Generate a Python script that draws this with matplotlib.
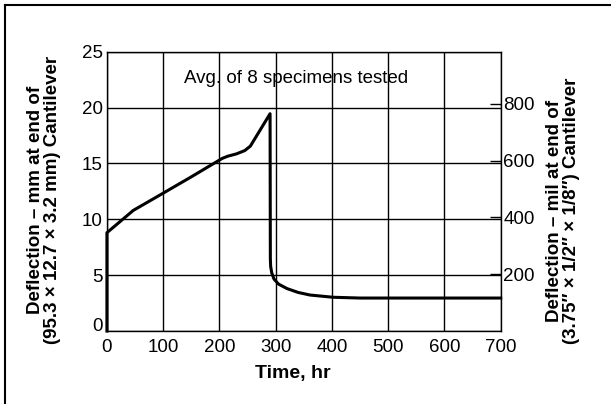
import matplotlib
matplotlib.use("Agg")
import matplotlib.pyplot as plt
from matplotlib.lines import Line2D

plt.rcParams["font.family"] = ["Liberation Sans", "DejaVu Sans"]

# averaged deflection curve
time_hr = [0, 0, 47, 97, 150, 205, 215, 230, 245, 255, 290, 290.5, 291, 293, 297, 305,
           320, 340, 361, 402, 450, 550, 700]
defl_mm = [0, 8.8, 10.8, 12.25, 13.8, 15.45, 15.65, 15.85, 16.15, 16.55, 19.45, 6.5, 5.8, 5.2,
           4.65, 4.2, 3.8, 3.45, 3.22, 3.02, 2.95, 2.95, 2.95]

x_ticks = [0, 100, 200, 300, 400, 500, 600, 700]
mm_ticks = [0, 5, 10, 15, 20, 25]
mil_ticks = [200, 400, 600, 800]
MM_PER_MIL = 0.0254

fig = plt.figure(figsize=(6.11, 4.04), dpi=100)
ax = fig.add_axes([0.175, 0.1807, 0.6445, 0.6913])

ax.plot(time_hr, defl_mm, color="black", lw=2.2, solid_joinstyle="round",
        zorder=3, clip_on=False)
ax.set_xlim(0, 700)
ax.set_ylim(0, 25)
ax.set_xticks(x_ticks)
ax.set_yticks(mm_ticks)
ax.grid(True, color="black", lw=1.0)
ax.tick_params(axis="y", length=0, labelsize=13.5, pad=3)
ax.tick_params(axis="x", length=0, labelsize=13.5, pad=6)
# y "0" sits on the baseline of the axis so it clears the x "0"
ax.get_yticklabels()[0].set_verticalalignment("baseline")
for s in ax.spines.values():
    s.set_linewidth(1.0)

ax.text(336, 22.6, "Avg. of 8 specimens tested", ha="center", va="center", fontsize=13.5)

ax2 = ax.twinx()
ax2.set_ylim(0, 25 / MM_PER_MIL)
ax2.set_yticks(mil_ticks)
ax2.tick_params(direction="in", length=8, width=1.0, labelsize=13.5, pad=2)
for s in ax2.spines.values():
    s.set_visible(False)

fig.text(0.48, 0.076, "Time, hr", ha="center", va="center", fontsize=14, fontweight="bold")
fig.text(0.072, 0.505, "Deflection \u2013 mm at end of\n(95.3 \u00d7 12.7 \u00d7 3.2 mm) Cantilever",
         rotation=90, ha="center", va="center", fontsize=13.5, fontweight="bold",
         linespacing=1.0)
fig.text(0.922, 0.478, "Deflection \u2013 mil at end of\n(3.75\u2033 \u00d7 1/2\u2033 \u00d7 1/8\u2033) Cantilever",
         rotation=90, ha="center", va="center", fontsize=13.5, fontweight="bold",
         linespacing=1.0)

# outer frame (top and left edges visible)
fig.add_artist(Line2D([0.0075, 1.0], [0.9875, 0.9875], color="black", lw=1.5,
                      transform=fig.transFigure))
fig.add_artist(Line2D([0.0075, 0.0075], [0.0, 0.9875], color="black", lw=1.5,
                      transform=fig.transFigure))

fig.savefig("out.png", dpi=100)
